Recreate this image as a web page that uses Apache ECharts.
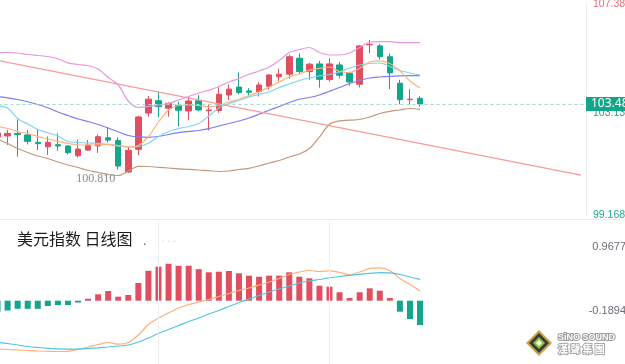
<!DOCTYPE html>
<html><head><meta charset="utf-8">
<script src="https://cdn.jsdelivr.net/npm/echarts@6/dist/echarts.min.js"></script>
<style>html,body{margin:0;padding:0;background:#fff}#c{width:625px;height:364px}</style>
</head><body><div id="c"></div>
<script>
// ---- data ----
const slotCount = 59;
const categories = Array.from({length: slotCount}, (_, i) => String(i + 1));
// [open, close, low, high]
const candles = [
 [102.20,102.355,102.12,102.43],[102.24,102.34,101.89,102.47],[102.34,102.30,101.44,102.88],
 [102.28,102.03,101.91,102.47],[101.99,101.94,101.69,102.47],[101.82,101.99,101.50,102.22],
 [101.90,101.85,101.66,102.34],[101.85,101.59,101.52,101.89],[101.47,101.73,101.40,102.10],
 [101.69,101.89,101.66,102.08],[101.85,102.21,101.58,102.30],[102.17,102.08,101.99,102.59],
 [102.06,101.07,100.94,102.18],[100.84,101.68,100.81,101.83],[101.72,102.98,101.50,103.02],
 [103.13,103.67,102.99,103.79],[103.61,103.38,102.97,103.96],[103.32,103.51,102.99,103.54],
 [103.43,103.24,102.61,103.57],[103.21,103.60,102.85,103.77],[103.61,103.25,103.21,103.83],
 [103.22,103.25,102.45,103.46],[103.23,103.86,103.14,104.13],[103.83,104.06,103.64,104.24],
 [104.14,103.93,103.86,104.71],[103.99,103.94,103.77,104.10],[103.96,104.22,103.77,104.33],
 [104.17,104.61,104.04,104.65],[104.54,104.64,104.38,104.85],[104.64,105.32,104.46,105.40],
 [105.26,104.74,104.66,105.45],[104.74,105.03,104.42,105.08],[105.04,104.44,104.12,105.16],
 [104.43,105.04,104.35,105.26],[105.00,104.60,104.48,105.11],[104.68,104.34,104.19,104.74],
 [104.25,105.74,104.12,105.78],[105.78,105.80,105.45,105.97],[105.74,105.32,105.21,105.82],
 [105.32,104.69,104.06,105.44],[104.29,103.65,103.47,104.42],[103.65,103.67,103.46,104.06],
 [103.70,103.48,103.38,103.79]
];
const upperBand = [105.472,105.487,105.464,105.406,105.367,105.328,105.239,105.083,105.017,104.967,104.842,104.512,104.220,103.599,103.346,103.385,103.443,103.502,103.638,103.773,103.910,104.014,104.162,104.337,104.473,104.636,104.765,104.920,105.173,105.484,105.600,105.678,105.484,105.387,105.387,105.464,105.678,105.892,105.903,105.903,105.864,105.864,105.864];
const midBand = [103.774,103.723,103.657,103.568,103.463,103.334,103.171,103.035,102.899,102.802,102.685,102.549,102.402,102.258,102.207,102.188,102.219,102.297,102.367,102.413,102.452,102.526,102.627,102.724,102.821,102.938,103.082,103.237,103.385,103.540,103.665,103.735,103.832,103.976,104.123,104.279,104.395,104.493,104.531,104.559,104.578,104.582,104.582];
const lowerBand = [102.122,101.947,101.753,101.597,101.461,101.364,101.228,101.111,101.014,100.898,100.820,100.742,100.703,100.878,101.061,101.053,101.022,100.995,100.964,100.944,100.917,100.890,100.859,100.878,100.936,100.983,101.072,101.189,101.286,101.422,101.539,101.753,102.199,102.693,102.829,102.852,102.880,102.977,103.113,103.198,103.249,103.307,103.276];
const maFast = [102.608,102.530,102.413,102.336,102.219,102.122,102.032,101.955,101.889,101.889,101.896,101.916,101.861,101.811,101.869,102.219,102.782,103.249,103.424,103.443,103.424,103.373,103.424,103.560,103.657,103.813,103.948,104.143,104.337,104.531,104.648,104.792,104.870,104.920,104.745,104.706,104.870,105.114,105.161,105.056,104.765,104.376,104.104];
const maSlow = [103.404,103.327,102.918,102.705,102.491,102.363,102.238,102.025,101.986,101.966,101.955,101.916,101.858,101.811,101.830,101.959,102.219,102.413,102.530,102.608,102.724,103.016,103.327,103.502,103.630,103.754,103.859,103.948,104.123,104.259,104.395,104.493,104.570,104.629,104.726,104.881,104.998,105.056,105.075,104.940,104.784,104.687,104.609];
const trendStart = 105.18, trendEnd = 100.72;
const macdHist = [-0.20,-0.178,-0.147,-0.147,-0.147,-0.096,-0.078,-0.078,-0.033,0.036,0.116,0.176,0.073,0.104,0.322,0.543,0.618,0.671,0.634,0.636,0.573,0.516,0.527,0.540,0.498,0.455,0.436,0.455,0.455,0.516,0.436,0.407,0.273,0.255,0.153,0.049,0.153,0.225,0.182,0.049,-0.20,-0.333,-0.442];
const dif = [-0.874,-0.887,-0.896,-0.905,-0.914,-0.919,-0.923,-0.919,-0.883,-0.841,-0.796,-0.759,-0.790,-0.759,-0.623,-0.432,-0.314,-0.223,-0.133,-0.069,-0.024,0.022,0.076,0.131,0.185,0.231,0.285,0.340,0.403,0.476,0.521,0.549,0.531,0.543,0.516,0.472,0.521,0.589,0.598,0.549,0.403,0.294,0.176];
const dea = [-0.759,-0.778,-0.805,-0.832,-0.850,-0.865,-0.874,-0.878,-0.878,-0.868,-0.856,-0.841,-0.823,-0.805,-0.750,-0.678,-0.596,-0.523,-0.451,-0.378,-0.314,-0.242,-0.178,-0.105,-0.033,0.031,0.094,0.158,0.213,0.267,0.322,0.358,0.385,0.416,0.440,0.461,0.480,0.498,0.512,0.507,0.476,0.431,0.389];
const priceTicks = [99.168, 103.13, 107.380];
const macdTicks = [0.9677, -0.1894];
const lastPrice = 103.48;
const macdMarks = [16, 33];

// ---- styles ----
const UP = '#e04f5f', DOWN = '#12a68b';
const chart = echarts.init(document.getElementById('c'), null, {renderer: 'canvas'});
const line = (name, data, color, x) => ({
  name, type: 'line', data, xAxisIndex: x, yAxisIndex: x, symbol: 'none', smooth: 0.3,
  lineStyle: {color, width: 1.2}, z: 3, silent: true, animation: false
});
chart.setOption({
  animation: false,
  backgroundColor: '#fff',
  grid: [
    {left: -7.5, right: 39, top: 3.7, height: 211.3, outerBoundsMode: 'none', containLabel: false},
    {left: -7.5, right: 39, top: 222, height: 142, outerBoundsMode: 'none', containLabel: false}
  ],
  xAxis: [
    {type: 'category', data: categories, gridIndex: 0, boundaryGap: true, show: false},
    {type: 'category', data: categories, gridIndex: 1, boundaryGap: true, show: false}
  ],
  yAxis: [
    {type: 'value', gridIndex: 0, position: 'right', min: 99.168, max: 107.38, scale: true,
     axisLine: {show: true, lineStyle: {color: '#ececec'}}, axisTick: {show: false}, splitLine: {show: false},
     axisLabel: {customValues: priceTicks, align: 'left', margin: 7, fontSize: 10.5, fontFamily: 'Liberation Sans',
       hideOverlap: false, showMinLabel: true, showMaxLabel: true,
       formatter: v => Number(v).toFixed(3),
       color: v => (Number(v) > lastPrice ? '#e66a75' : '#1fa88c')}},
    {type: 'value', gridIndex: 1, position: 'right', min: -1.15, max: 1.43,
     axisLine: {show: false}, axisTick: {show: false}, splitLine: {show: false},
     axisLabel: {customValues: macdTicks, align: 'right', margin: 40, fontSize: 11, fontFamily: 'Liberation Sans',
       color: '#6b6e78', formatter: v => Number(v).toFixed(4)}}
  ],
  series: [
    {type: 'candlestick', data: candles, xAxisIndex: 0, yAxisIndex: 0, barWidth: 6, z: 2,
     itemStyle: {color: UP, color0: DOWN, borderColor: UP, borderColor0: DOWN, borderWidth: 1},
     markPoint: {symbol: 'circle', symbolSize: 0, silent: true,
       data: [{type: 'min', valueDim: 'lowest'}],
       label: {show: true, position: 'left', offset: [-8, 6], color: '#8a8a8a', fontSize: 12,
         fontFamily: 'Liberation Serif', formatter: p => Number(p.value).toFixed(3)}},
     markLine: {symbol: 'none', silent: true, animation: false, z: 10,
       data: [
         [{coord: [0, trendStart]}, {coord: [slotCount - 1, trendEnd]}],
         {yAxis: lastPrice, lineStyle: {color: '#9fdccf', type: [3, 3], width: 1},
          label: {show: true, position: 'end', distance: 0, color: '#fff', backgroundColor: '#13a58a',
            padding: [1, 6, 1, 5], fontSize: 12, fontFamily: 'Noto Sans',
            formatter: p => Number(p.value).toFixed(3)}}
       ],
       lineStyle: {color: '#f79a9a', width: 1.2, type: 'solid'},
       label: {show: false}}},
    line('upper', upperBand, '#e49ae2', 0),
    line('mid', midBand, '#7d7cf2', 0),
    line('lower', lowerBand, '#c4987a', 0),
    line('maSlow', maSlow, '#7fd6ea', 0),
    line('maFast', maFast, '#ffb27c', 0),
    {type: 'bar', data: macdHist, xAxisIndex: 1, yAxisIndex: 1, barWidth: 6, z: 2,
     itemStyle: {color: p => (p.value >= 0 ? UP : DOWN)},
     markLine: {symbol: 'none', silent: true, label: {show: false},
       lineStyle: {color: '#f0f0f0', width: 1, type: 'solid'},
       data: macdMarks.map(i => ({xAxis: i}))}},
    line('DIF', dif, '#ffb07a', 1),
    line('DEA', dea, '#52c4e2', 1)
  ],
  graphic: [
    {type: 'line', shape: {x1: 0, y1: 219.5, x2: 625, y2: 219.5}, style: {stroke: '#ececec', lineWidth: 1}, silent: true},
    {type: 'text', left: 17, top: 231, style: {text: '美元指数 日线图', fontSize: 16, fill: '#1c1c1c',
      fontFamily: 'Noto Sans CJK SC'}},
    {type: 'text', left: 143, top: 236, style: {text: '.', fontSize: 12, fill: '#555'}},
    {type: 'text', left: 162, top: 234, style: {text: '. . .', fontSize: 10, fill: '#ccc'}},
    {type: 'group', left: 526, top: 330, children: [
      {type: 'polygon', shape: {points: [[13, 0], [26, 13], [13, 26], [0, 13]]}, style: {fill: '#c9a24a'}},
      {type: 'polygon', shape: {points: [[13, 3], [23, 13], [13, 23], [3, 13]]}, style: {fill: '#3b3a33'}},
      {type: 'polygon', shape: {points: [[13, 7], [19, 13], [13, 19], [7, 13]]}, style: {fill: '#8cc63f'}},
      {type: 'polygon', shape: {points: [[13, 10], [16, 13], [13, 16], [10, 13]]}, style: {fill: '#fff'}}
    ]},
    {type: 'text', left: 557, top: 332, style: {text: 'SiNO SOUND', fontSize: 9, fontWeight: 'bold',
      fill: '#fff', stroke: '#9a9a9a', lineWidth: 2, fontFamily: 'Liberation Sans'}},
    {type: 'text', left: 557, top: 343, style: {text: '漢 聲 集 團', fontSize: 10, fontWeight: 'bold',
      fill: '#fff', stroke: '#a8a8a8', lineWidth: 2, fontFamily: 'Noto Sans CJK TC'}}
  ]
});
</script></body></html>
